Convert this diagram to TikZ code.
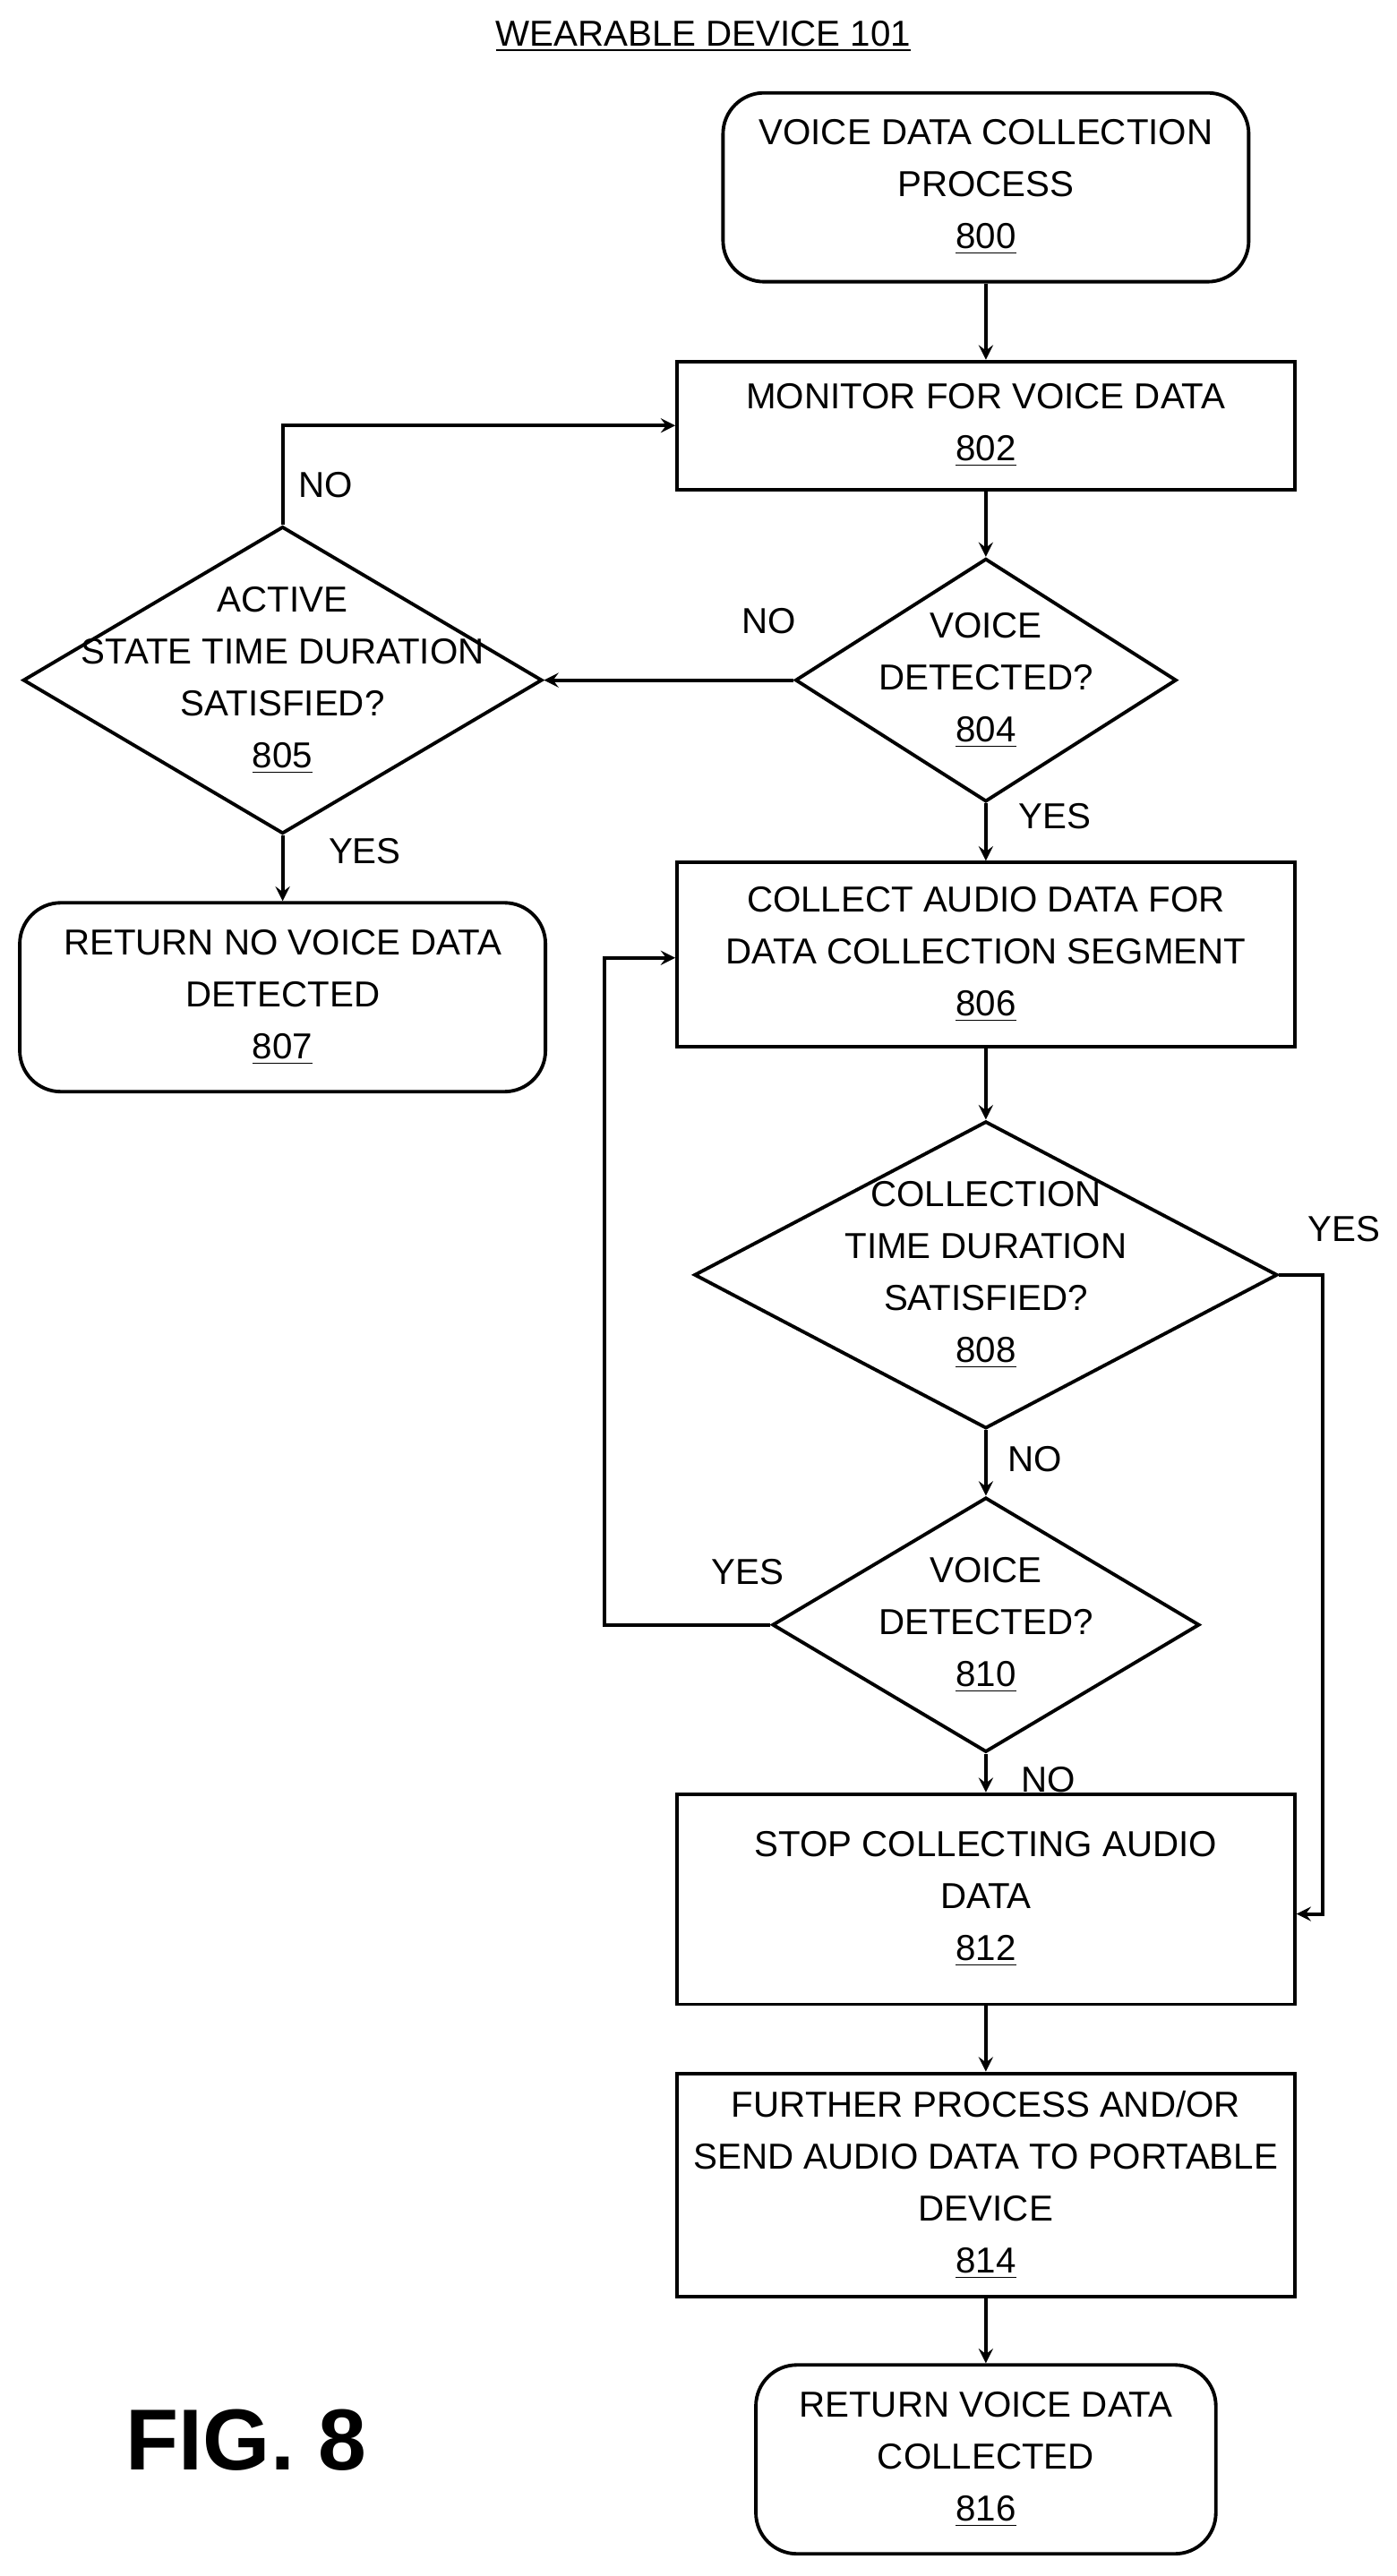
\documentclass[tikz,border=0pt]{standalone}
\usepackage{fontspec}
\setmainfont{Liberation Sans}
\usetikzlibrary{shapes.geometric}
\tikzset{
  every node/.style={font=\fontsize{12.5}{18}\selectfont, align=center},
  box/.style={draw, very thick, minimum width=7.52cm, inner sep=0pt},
  term/.style={draw, very thick, rounded corners=0.5cm, inner sep=0pt},
  dia/.style={draw, very thick, diamond, inner sep=0pt},
  flow/.style={very thick, -stealth},
}
\begin{document}
\begin{tikzpicture}[x=0.02cm, y=-0.02cm]
  \useasboundingbox (0,0) rectangle (850,1568);
  \node (title) at (428,22) {\underline{WEARABLE DEVICE 101}};
  % boxes
  \node[term, minimum width=6.4cm, minimum height=2.3cm] (n800) at (600,114) {VOICE DATA COLLECTION\\PROCESS\\\underline{800}};
  \node[box, minimum height=1.56cm] (n802) at (600,259) {MONITOR FOR VOICE DATA\\\underline{802}};
  \node[dia, minimum width=4.64cm, minimum height=2.96cm] (n804) at (600,414) {};
  \node at (n804) {VOICE\\DETECTED?\\\underline{804}};
  \node[dia, minimum width=6.32cm, minimum height=3.74cm] (n805) at (172,414) {};
  \node at (n805) {ACTIVE\\STATE TIME DURATION\\SATISFIED?\\\underline{805}};
  \node[term, minimum width=6.4cm, minimum height=2.3cm] (n807) at (172,607) {RETURN NO VOICE DATA\\DETECTED\\\underline{807}};
  \node[box, minimum height=2.24cm] (n806) at (600,581) {COLLECT AUDIO DATA FOR\\DATA COLLECTION SEGMENT\\\underline{806}};
  \node[dia, minimum width=7.1cm, minimum height=3.74cm] (n808) at (600,776) {};
  \node at (n808) {COLLECTION\\TIME DURATION\\SATISFIED?\\\underline{808}};
  \node[dia, minimum width=5.2cm, minimum height=3.1cm] (n810) at (600,989) {};
  \node at (n810) {VOICE\\DETECTED?\\\underline{810}};
  \node[box, minimum height=2.56cm] (n812) at (600,1156) {STOP COLLECTING AUDIO\\DATA\\\underline{812}};
  \node[box, minimum height=2.72cm] (n814) at (600,1330) {FURTHER PROCESS AND/OR\\SEND AUDIO DATA TO PORTABLE\\DEVICE\\\underline{814}};
  \node[term, minimum width=5.6cm, minimum height=2.3cm] (n816) at (600,1497) {RETURN VOICE DATA\\COLLECTED\\\underline{816}};
  \node[font=\fontsize{30}{36}\selectfont\bfseries] (fig) at (150,1485) {FIG. 8};
  % connectors
  \coordinate (c1) at (172,259);
  \coordinate (c2) at (805,776);
  \coordinate (c3) at (805,1165);
  \coordinate (c4) at (368,989);
  \coordinate (c5) at (368,583);
  \draw[flow] (n800) -- (n802);
  \draw[flow] (n802) -- (n804);
  \draw[flow] (n804.west) -- (n805.east);
  \draw[flow] (n805.north) -- (c1) -- (n802.west);
  \draw[flow] (n804.south) -- (n806);
  \draw[flow] (n805.south) -- (n807);
  \draw[flow] (n806) -- (n808);
  \draw[flow] (n808.south) -- (n810.north);
  \draw[flow] (n808.east) -- (c2) -- (c3) -- (n812.east |- c3);
  \draw[flow] (n810.west) -- (c4) -- (c5) -- (n806.west |- c5);
  \draw[flow] (n810.south) -- (n812);
  \draw[flow] (n812) -- (n814);
  \draw[flow] (n814) -- (n816);
  % labels
  \node at (468,378) {NO};
  \node at (198,295) {NO};
  \node at (642,497) {YES};
  \node at (222,518) {YES};
  \node at (630,888) {NO};
  \node at (818,748) {YES};
  \node at (455,957) {YES};
  \node at (638,1083) {NO};
\end{tikzpicture}
\end{document}
